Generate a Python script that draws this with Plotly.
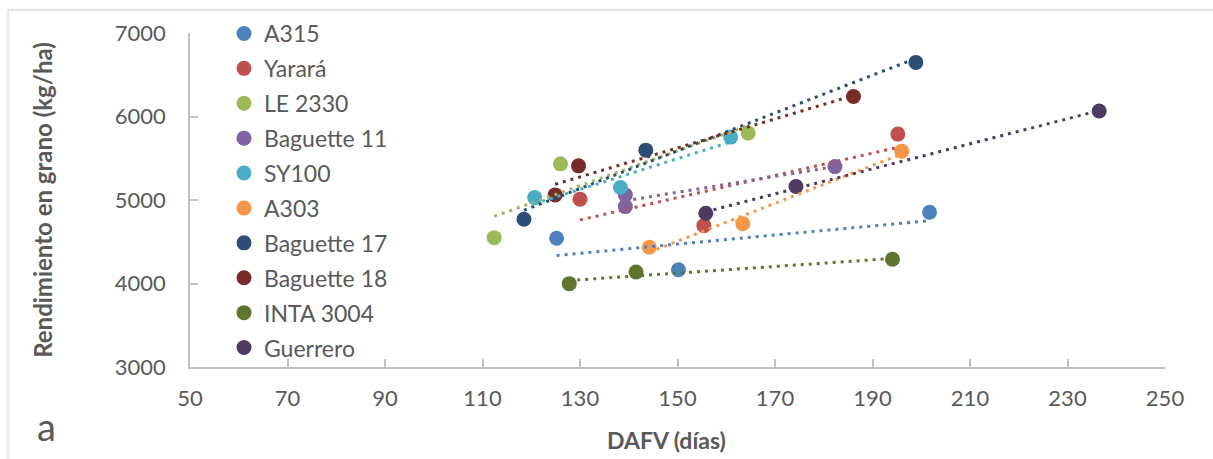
import numpy as np
import plotly.graph_objects as go

# ---- data ----
series_names = ["A315", "Yarará", "LE 2330", "Baguette 11", "SY100", "A303",
                "Baguette 17", "Baguette 18", "INTA 3004", "Guerrero"]

a315_x = [125.2, 150.2, 201.7]
a315_y = [4542, 4165, 4854]
yarara_x = [130.0, 155.4, 195.2]
yarara_y = [5010, 4693, 5789]
le2330_x = [112.4, 126.0, 164.5]
le2330_y = [4549, 5433, 5801]
bag11_x = [139.3, 139.3, 182.3]
bag11_y = [5061, 4921, 5400]
sy100_x = [120.7, 138.3, 160.9]
sy100_y = [5029, 5149, 5753]
a303_x = [144.2, 163.4, 196.0]
a303_y = [4434, 4717, 5585]
bag17_x = [118.5, 143.5, 198.9]
bag17_y = [4770, 5597, 6648]
bag18_x = [124.9, 129.7, 186.1]
bag18_y = [5061, 5409, 6240]
inta_x = [127.8, 141.5, 194.1]
inta_y = [3998, 4138, 4290]
guerrero_x = [155.8, 174.3, 236.5]
guerrero_y = [4842, 5161, 6065]

xs = [a315_x, yarara_x, le2330_x, bag11_x, sy100_x, a303_x, bag17_x, bag18_x, inta_x, guerrero_x]
ys = [a315_y, yarara_y, le2330_y, bag11_y, sy100_y, a303_y, bag17_y, bag18_y, inta_y, guerrero_y]

colors = ["#4F81BD", "#C0504D", "#9BBB59", "#8064A2", "#4BACC6", "#F79646",
          "#2C4D75", "#772C2A", "#5F7530", "#4D3B62"]

x_ticks = list(range(50, 251, 20))
y_ticks = list(range(3000, 7001, 1000))

x_title = "DAFV (días)"
y_title = "Rendimiento en grano (kg/ha)"

FONT = "Lato"
GREY = "#595959"

fig = go.Figure()

for name, x, y, c in zip(series_names, xs, ys, colors):
    fig.add_trace(go.Scatter(x=x, y=y, mode="markers", name=name,
                             legendgroup=name,
                             marker=dict(size=15, color=c, line=dict(width=0))))

for name, x, y, c in zip(series_names, xs, ys, colors):
    k, b = np.polyfit(x, y, 1)
    tx = [min(x), max(x)]
    ty = [k * v + b for v in tx]
    fig.add_trace(go.Scatter(x=tx, y=ty, mode="lines", showlegend=False,
                             hoverinfo="skip",
                             line=dict(color=c, width=3, dash="3px,5px")))

W, H = 1213, 459
L, R, T, B = 190, 48, 33, 92
pw, ph = W - L - R, H - T - B

def px_x(p):
    return (p - L) / pw

def px_y(p):
    return (H - B - p) / ph

fig.update_layout(
    width=W, height=H,
    margin=dict(l=L, r=R, t=T, b=B),
    paper_bgcolor="white", plot_bgcolor="white",
    font=dict(family=FONT, size=22, color=GREY),
    legend=dict(x=px_x(224), y=px_y(12), xanchor="left", yanchor="top",
                bgcolor="rgba(0,0,0,0)", font=dict(family=FONT, size=23, color=GREY),
                tracegroupgap=2, itemsizing="trace", maxheight=430),
    xaxis=dict(range=[50, 250], tickvals=x_ticks, showgrid=False, zeroline=False,
               showline=True, linecolor="#BFBFBF", linewidth=1.5,
               ticks="inside", ticklen=8, tickcolor="#BFBFBF", tickwidth=1.5,
               ticklabelstandoff=11,
               tickfont=dict(family=FONT, size=22, color=GREY)),
    yaxis=dict(range=[3000, 7000], tickvals=y_ticks, showgrid=False, zeroline=False,
               showline=True, linecolor="#BFBFBF", linewidth=1.5,
               ticks="inside", ticklen=8, tickcolor="#BFBFBF", tickwidth=1.5,
               ticklabelstandoff=18,
               tickfont=dict(family=FONT, size=22, color=GREY),
               title=dict(text="<b>" + y_title + "</b>", standoff=55,
                          font=dict(family=FONT, size=24, color=GREY))),
    shapes=[dict(type="rect", xref="paper", yref="paper",
                 x0=px_x(8), x1=px_x(1225), y0=px_y(475), y1=px_y(10),
                 line=dict(color="#D9D9D9", width=1.3), fillcolor="rgba(0,0,0,0)",
                 layer="below")],
    annotations=[
        dict(text="a", xref="paper", yref="paper", x=px_x(46), y=px_y(426),
             xanchor="center", yanchor="middle", showarrow=False,
             font=dict(family=FONT, size=38, color=GREY)),
        dict(text="<b>" + x_title + "</b>", xref="paper", yref="paper",
             x=px_x(666), y=px_y(440), xanchor="center", yanchor="middle",
             showarrow=False, font=dict(family=FONT, size=23, color=GREY)),
    ],
)

fig.write_html("out.html")
